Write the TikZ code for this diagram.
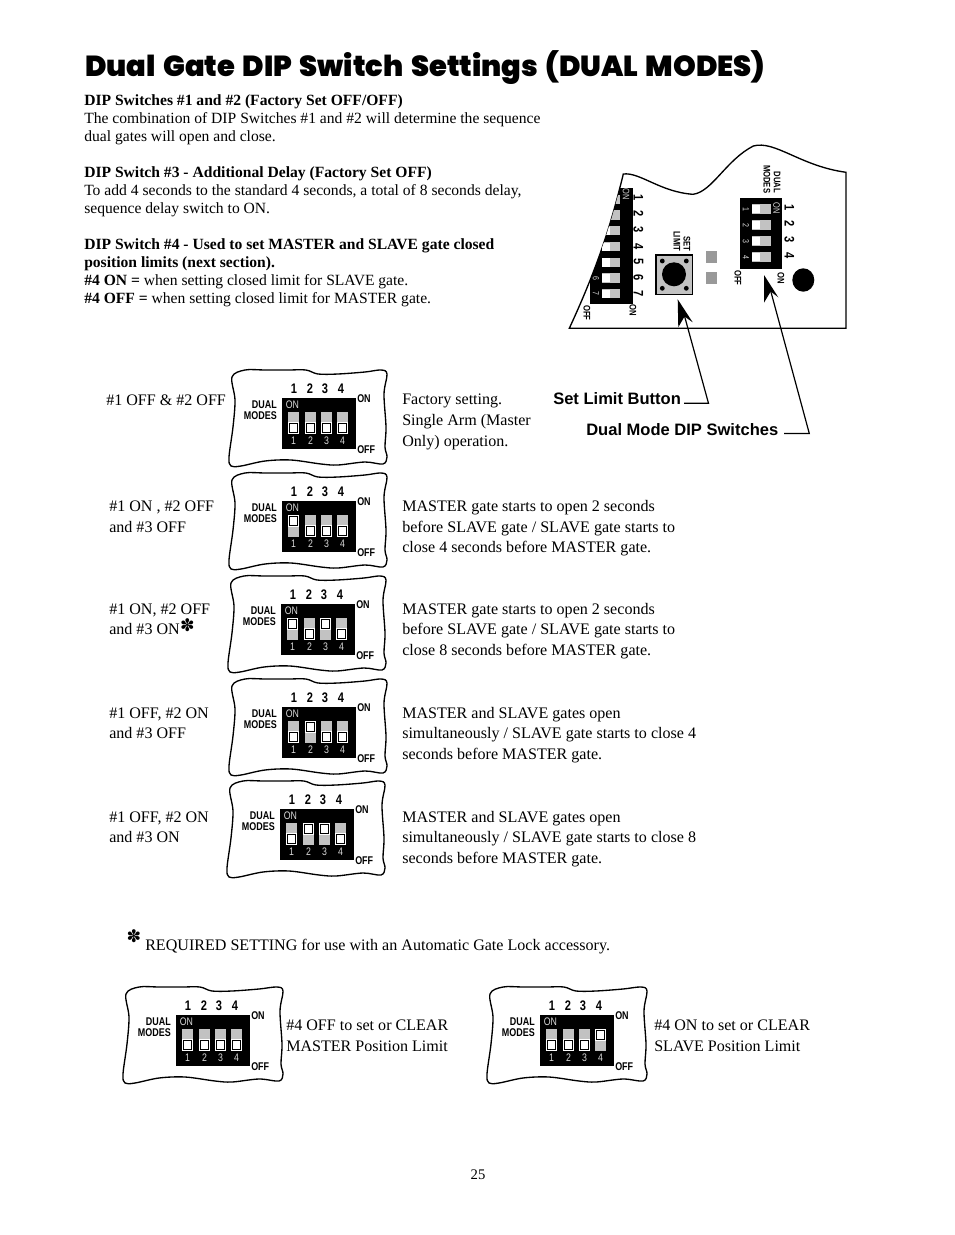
\documentclass[tikz,border=0pt]{standalone}
\usepackage{fontspec}
\setmainfont{Liberation Serif}
\newfontfamily\lsans{Liberation Sans}
\newfontfamily\nsans[FakeStretch=0.8]{Liberation Sans}
\newfontfamily\ttlfont[WordSpace=1.5]{Poppins Black}
\newfontfamily\symfont{DejaVu Sans}
\newcommand{\fsz}[1]{\fontsize{#1}{#1}\selectfont}
\tikzset{
  body/.style={anchor=base west,inner sep=0pt,font=\fsz{11.7}},
  big/.style={anchor=base west,inner sep=0pt,font=\fsz{12.05}},
  lab/.style={inner sep=0pt,font=\nsans\bfseries\fsz{8.4}},
  num/.style={inner sep=0pt,font=\nsans\bfseries\fsz{10.4}},
  wlab/.style={inner sep=0pt,text=white!85!black,font=\nsans\fsz{8.2}},
  call/.style={anchor=base west,inner sep=0pt,font=\lsans\bfseries\fsz{12.4}},
  stary/.style={inner sep=0pt,font=\symfont\fsz{13}},
  outline/.style={draw=black,line width=1pt},
  leader/.style={draw=black,line width=0.9pt},
  headfill/.style={fill=black,draw=none},
}
\definecolor{slotgray}{gray}{0.76}
\definecolor{padgray}{gray}{0.6}
% one switch: x-offset within box, 0=off 1=on
\newcommand{\sw}[3]{% #1 x offset, #2 state, #3 digit
  \fill[slotgray] (#1-5.5,14) rectangle (#1+5.5,36);
  \pgfmathsetmacro{\swy}{#2==1 ? 20 : 30}
  \fill[white] (#1-5.5,\swy-6) rectangle (#1+5.5,\swy+6);
  \fill[black] (#1-4.5,\swy-5) rectangle (#1+4.5,\swy+5);
  \fill[white] (#1-3.5,\swy-4) rectangle (#1+3.5,\swy+4);
  \node[wlab] at (#1,42.5) {#3};
}
\def\rx{3}
\newcommand{\dipunit}[7]{% #1 name, #2 x, #3 y, #4-#7 states
  \begin{scope}[shift={(#2,#3)}]
    \draw[outline] plot[smooth cycle,tension=0.55] coordinates {
      (-50,-21) (-37,-28) (-17,-28) (6,-28) (24,-28) (36,-24) (56,-24) (83,-26) (96+\rx,-28) (102+\rx,-24)
      (99+\rx,-4) (101+\rx,29) (100+\rx,49) (102+\rx,59) (98+\rx,66) (83,64) (56,67) (39,66) (9,62) (-17,63) (-41,68)
      (-51,68) (-53,59) (-49,29) (-47,2)};
    \fill[black] (0,0) rectangle (74,51);
    \node[wlab,anchor=west] (#1on) at (3.5,6.5) {ON};
    \sw{11.5}{#4}{1}\sw{28.5}{#5}{2}\sw{44.5}{#6}{3}\sw{60.5}{#7}{4}
    \node[num] (#1a) at (12,-9) {1};
    \node[num] (#1b) at (28,-9) {2};
    \node[num] (#1c) at (43,-9) {3};
    \node[num] (#1d) at (59,-9) {4};
    \node[lab,anchor=east] (#1dual) at (-5,6.5) {DUAL};
    \node[lab,anchor=east] (#1modes) at (-5,18) {MODES};
    \node[lab,anchor=west] (#1hi) at (75,0.5) {ON};
    \node[lab,anchor=west] (#1lo) at (75,52) {OFF};
  \end{scope}
}
\begin{document}
\begin{tikzpicture}[x=0.75pt,y=-0.75pt]
\useasboundingbox (0,0) rectangle (954,1235);
\fill[white] (0,0) rectangle (954,1235);

% title
\node[anchor=base west,inner sep=0pt] (title) at (85,76) {\resizebox{510pt}{!}{\ttlfont\fsz{20}Dual Gate DIP Switch Settings (DUAL MODES)}};

% intro text
\node[body] (t1) at (84,105) {\bfseries DIP Switches \#1 and \#2 (Factory Set OFF/OFF)};
\node[body] (t2) at (84,123) {The combination of DIP Switches \#1 and \#2 will determine the sequence};
\node[body] (t3) at (84,141) {dual gates will open and close.};
\node[body] (t4) at (84,177) {\bfseries DIP Switch \#3 - Additional Delay (Factory Set OFF)};
\node[body] (t5) at (84,195) {To add 4 seconds to the standard 4 seconds, a total of 8 seconds delay,};
\node[body] (t6) at (84,213) {sequence delay switch to ON.};
\node[body] (t7) at (84,249) {\bfseries DIP Switch \#4 - Used to set MASTER and SLAVE gate closed};
\node[body] (t8) at (84,267) {\bfseries position limits (next section).};
\node[body] (t9) at (84,285) {\textbf{\#4 ON =} when setting closed limit for SLAVE gate.};
\node[body] (t10) at (84,303) {\textbf{\#4 OFF =} when setting closed limit for MASTER gate.};

% board
\draw[outline] (569.3,328.3) .. controls (600,262) and (612,220) .. (623.3,174)
  .. controls (640,172) and (660,192) .. (693,194.3)
  .. controls (712,192) and (726,160) .. (753.3,146)
  .. controls (775,140) and (800,166) .. (846,172.3) -- (846,328.3) -- cycle;
\begin{scope}
  \clip (569.3,328.3) .. controls (600,262) and (612,220) .. (623.3,174) -- (700,174) -- (700,340) -- cycle;
  \fill[black] (589.5,187.5) rectangle (632.5,304);
  \foreach \yy in {199.3,215,230.7,246.7,262.3,278,293.7}{
    \fill[slotgray] (602,\yy-4.7) rectangle (620,\yy+4.7);
    \fill[white] (602,\yy-4.2) rectangle (610,\yy+4.2);
  }
\end{scope}
\node[wlab,rotate=-90,font=\nsans\fsz{7}] (bon) at (626,194) {ON};
\node[wlab,rotate=-90,font=\nsans\fsz{6.6}] (b6) at (596,278) {6};
\node[wlab,rotate=-90,font=\nsans\fsz{6.6}] (b7) at (596,293.7) {7};
\foreach \nn/\yy in {1/197.3,2/214,3/230,4/246.3,5/262,6/277.7,7/293.7}
  \node[num,rotate=-90] (bn\nn) at (638.5,\yy) {\nn};
\node[lab,rotate=-90,font=\nsans\bfseries\fsz{7.2}] (boff) at (587,313) {OFF};
\node[lab,rotate=-90,font=\nsans\bfseries\fsz{7.2}] (bon2) at (633,310) {ON};
\node[lab,rotate=-90,anchor=east,font=\nsans\bfseries\fsz{7.2}] (bset) at (687,251.5) {SET};
\node[lab,rotate=-90,anchor=east,font=\nsans\bfseries\fsz{7.2}] (blimit) at (677,251.5) {LIMIT};
% button
\draw[black,fill=slotgray,line width=1.2pt] (655.7,254.7) rectangle (692.3,294.3);
\fill[black] (674,274.3) circle (12);
\foreach \xx/\yy in {662.3/261,686.3/261,662.3/288.3,686.3/288.3} \fill[black] (\xx,\yy) circle (2.4);
\fill[padgray] (706,250.7) rectangle (716.7,262.7);
\fill[padgray] (706,272) rectangle (716.7,284);
% dual dip on board
\fill[black] (740.3,198.3) rectangle (781.7,269);
\foreach \yy in {209,225,241,257}{
  \fill[slotgray] (752.3,\yy-4.7) rectangle (770.7,\yy+4.7);
  \fill[white] (752.3,\yy-4) rectangle (760,\yy+4);
}
\foreach \nn/\yy in {1/209,2/225,3/241,4/257}{
  \node[wlab,rotate=-90,font=\nsans\fsz{6.6}] (dw\nn) at (746,\yy) {\nn};
}
\node[wlab,rotate=-90,font=\nsans\fsz{7}] (don) at (776.7,208.5) {ON};
\foreach \nn/\yy in {1/208,2/224,3/240,4/256}
  \node[num,rotate=-90] (dn\nn) at (789.5,\yy) {\nn};
\node[lab,rotate=-90,anchor=east,font=\nsans\bfseries\fsz{7.2}] (ddual) at (777,193.5) {DUAL};
\node[lab,rotate=-90,anchor=east,font=\nsans\bfseries\fsz{7.2}] (dmodes) at (767,193.5) {MODES};
\node[lab,rotate=-90,font=\nsans\bfseries\fsz{7.2}] (doff) at (738,278) {OFF};
\node[lab,rotate=-90,font=\nsans\bfseries\fsz{7.2}] (don2) at (781,278) {ON};
\fill[black] (803.3,280) ellipse (11 and 11.7);

% callouts
\node[call] (setl) at (553,404) {Set Limit Button};
\node[call] (dipl) at (586,435) {Dual Mode DIP Switches};
\coordinate (tipa) at (677.7,299.3);
\coordinate (tipb) at (764,275);
\coordinate (elba) at (708.5,403.3);
\coordinate (elbb) at (809.3,433.5);
\coordinate (froma) at (684,403.3);
\coordinate (fromb) at (784,433.5);
\draw[leader] (froma) -- (elba) -- (684.5,316);
\draw[leader] (fromb) -- (elbb) -- (770.7,291);
\fill[headfill] (tipa) -- (692.7,322.3) -- (684.5,316.5) -- (678.3,327.3) -- cycle;
\fill[headfill] (tipb) -- (778.3,297.3) -- (770.7,291.5) -- (764,302.7) -- cycle;

% units
\dipunit{u1}{282}{398}{0}{0}{0}{0}
\dipunit{u2}{282}{501}{1}{0}{0}{0}
\dipunit{u3}{281}{604}{1}{0}{1}{0}
\dipunit{u4}{282}{707}{0}{1}{0}{0}
\dipunit{u5}{280}{809}{0}{1}{1}{0}
\def\rx{5}
\dipunit{u6}{176}{1015}{0}{0}{0}{0}
\dipunit{u7}{540}{1015}{0}{0}{0}{1}

% left labels
\node[big] (l1) at (106,405) {\#1 OFF \& \#2 OFF};
\node[big] (l2a) at (109,511) {\#1 ON , \#2 OFF};
\node[big] (l2b) at (109,532) {and \#3 OFF};
\node[big] (l3a) at (109,614) {\#1 ON, \#2 OFF};
\node[big] (l3b) at (109,634) {and \#3 ON};
\node[stary] (ast1) at (187.5,625) {✽};
\node[big] (l4a) at (109,718) {\#1 OFF, \#2 ON};
\node[big] (l4b) at (109,738) {and \#3 OFF};
\node[big] (l5a) at (109,822) {\#1 OFF, \#2 ON};
\node[big] (l5b) at (109,842) {and \#3 ON};

% right text
\node[big] (r1a) at (402,404) {Factory setting.};
\node[big] (r1b) at (402,425) {Single Arm (Master};
\node[big] (r1c) at (402,446) {Only) operation.};
\node[big] (r2a) at (402,511) {MASTER gate starts to open 2 seconds};
\node[big] (r2b) at (402,532) {before SLAVE gate / SLAVE gate starts to};
\node[big] (r2c) at (402,552) {close 4 seconds before MASTER gate.};
\node[big] (r3a) at (402,614) {MASTER gate starts to open 2 seconds};
\node[big] (r3b) at (402,634) {before SLAVE gate / SLAVE gate starts to};
\node[big] (r3c) at (402,655) {close 8 seconds before MASTER gate.};
\node[big] (r4a) at (402,718) {MASTER and SLAVE gates open};
\node[big] (r4b) at (402,738) {simultaneously / SLAVE gate starts to close 4};
\node[big] (r4c) at (402,759) {seconds before MASTER gate.};
\node[big] (r5a) at (402,822) {MASTER and SLAVE gates open};
\node[big] (r5b) at (402,842) {simultaneously / SLAVE gate starts to close 8};
\node[big] (r5c) at (402,863) {seconds before MASTER gate.};

% note
\node[stary] (ast2) at (134,936) {✽};
\node[big] (note) at (145,950) {REQUIRED SETTING for use with an Automatic Gate Lock accessory.};

% bottom text
\node[big] (b1a) at (286,1030) {\#4 OFF to set or CLEAR};
\node[big] (b1b) at (286,1051) {MASTER Position Limit};
\node[big] (b2a) at (654,1030) {\#4 ON to set or CLEAR};
\node[big] (b2b) at (654,1051) {SLAVE Position Limit};
\node[inner sep=0pt,font=\fsz{11}] (page) at (478,1175) {25};
\end{tikzpicture}
\end{document}
